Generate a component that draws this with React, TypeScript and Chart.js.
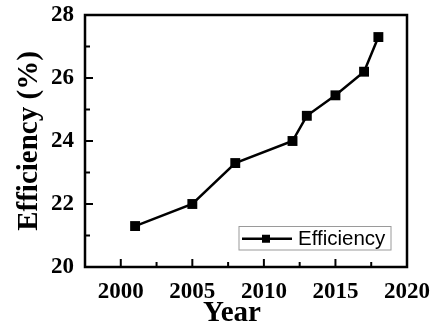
import React, { useEffect, useRef } from "react";
import { Chart, registerables } from "chart.js";

Chart.register(...registerables);

const years = [2001, 2005, 2008, 2012, 2013, 2015, 2017, 2018];
const efficiency = [21.3, 22.0, 23.3, 24.0, 24.8, 25.45, 26.2, 27.3];
const xTicks = [2000, 2005, 2010, 2015, 2020];
const xMinorTicks = [2002.5, 2007.5, 2012.5, 2017.5];
const yTicks = [20, 22, 24, 26, 28];
const yMinorTicks = [21, 23, 25, 27];
const seriesLabel = "Efficiency";
const xTitle = "Year";
const yTitle = "Efficiency (%)";

const SERIF = "'Liberation Serif', 'Times New Roman', serif";
const SANS = "'Liberation Sans', Arial, sans-serif";

const framePlugin = {
  id: "frame",
  afterDatasetsDraw(chart: any) {
    const { ctx, chartArea } = chart;
    const { left, right, top, bottom } = chartArea;
    const xs = chart.scales.x;
    const ys = chart.scales.y;
    ctx.save();
    ctx.strokeStyle = "#000";
    ctx.lineCap = "butt";
    ctx.lineWidth = 2;
    const major = 8;
    const minor = 5;
    xTicks.forEach((v) => {
      const px = xs.getPixelForValue(v);
      ctx.beginPath();
      ctx.moveTo(px, bottom);
      ctx.lineTo(px, bottom - major);
      ctx.stroke();
    });
    xMinorTicks.forEach((v) => {
      const px = xs.getPixelForValue(v);
      ctx.beginPath();
      ctx.moveTo(px, bottom);
      ctx.lineTo(px, bottom - minor);
      ctx.stroke();
    });
    yTicks.forEach((v) => {
      const py = ys.getPixelForValue(v);
      ctx.beginPath();
      ctx.moveTo(left, py);
      ctx.lineTo(left + major, py);
      ctx.stroke();
    });
    yMinorTicks.forEach((v) => {
      const py = ys.getPixelForValue(v);
      ctx.beginPath();
      ctx.moveTo(left, py);
      ctx.lineTo(left + minor, py);
      ctx.stroke();
    });
    ctx.lineWidth = 2.5;
    ctx.strokeRect(left, top, right - left, bottom - top);

    // legend
    const lw = 152;
    const lh = 23.5;
    const lx = right - 16 - lw;
    const ly = bottom - 17 - lh;
    ctx.lineWidth = 1;
    ctx.strokeStyle = "#9a9a9a";
    ctx.strokeRect(lx, ly, lw, lh);
    const cy = ly + lh / 2 + 0.5;
    ctx.strokeStyle = "#000";
    ctx.lineWidth = 2.5;
    ctx.beginPath();
    ctx.moveTo(lx + 3, cy);
    ctx.lineTo(lx + 53, cy);
    ctx.stroke();
    ctx.fillStyle = "#000";
    ctx.fillRect(lx + 27 - 4, cy - 4, 8, 8);
    ctx.font = `20.5px ${SANS}`;
    ctx.textBaseline = "middle";
    ctx.textAlign = "left";
    ctx.fillText(seriesLabel, lx + 59, cy + 1);

    // axis titles
    ctx.font = `bold 29px ${SERIF}`;
    ctx.textAlign = "center";
    ctx.textBaseline = "alphabetic";
    ctx.fillText(xTitle, 232, 321);
    ctx.save();
    ctx.translate(37, (top + bottom) / 2);
    ctx.rotate(-Math.PI / 2);
    ctx.font = `bold 29px ${SERIF}`;
    ctx.fillText(yTitle, 0, 0);
    ctx.restore();
    ctx.restore();
  },
};

export default function App() {
  const ref = useRef<HTMLCanvasElement | null>(null);
  useEffect(() => {
    if (!ref.current) return;
    const chart = new Chart(ref.current, {
      type: "line",
      data: {
        datasets: [
          {
            label: seriesLabel,
            data: years.map((y, i) => ({ x: y, y: efficiency[i] })),
            borderColor: "#000",
            backgroundColor: "#000",
            borderWidth: 2.5,
            pointStyle: "rect",
            pointRadius: 7,
            pointBorderWidth: 0,
            pointBackgroundColor: "#000",
            tension: 0,
          },
        ],
      },
      options: {
        animation: false,
        responsive: false,
        maintainAspectRatio: false,
        layout: { padding: { top: 15, right: 28, left: 0, bottom: 0 } },
        plugins: { legend: { display: false }, tooltip: { enabled: false } },
        scales: {
          x: {
            type: "linear",
            min: 1997.5,
            max: 2020,
            afterBuildTicks: (scale: any) => {
              scale.ticks = xTicks.map((v) => ({ value: v }));
            },
            afterFit: (scale: any) => {
              scale.height = 59;
              scale.paddingLeft = 0;
              scale.paddingRight = 0;
              scale.paddingTop = 0;
              scale.paddingBottom = 0;
            },
            grid: { display: false, drawTicks: false },
            border: { display: false },
            ticks: {
              color: "#000",
              padding: 11,
              maxRotation: 0,
              autoSkip: false,
              font: { family: SERIF, size: 23, weight: "bold" },
              callback: (v: any) => String(v),
            },
          },
          y: {
            type: "linear",
            min: 20,
            max: 28,
            afterBuildTicks: (scale: any) => {
              scale.ticks = yTicks.map((v) => ({ value: v }));
            },
            afterFit: (scale: any) => {
              scale.width = 85;
              scale.paddingLeft = 0;
              scale.paddingRight = 0;
              scale.paddingTop = 0;
              scale.paddingBottom = 0;
            },
            grid: { display: false, drawTicks: false },
            border: { display: false },
            ticks: {
              color: "#000",
              padding: 11,
              autoSkip: false,
              font: { family: SERIF, size: 23, weight: "bold" },
              callback: (v: any) => String(v),
            },
          },
        },
      },
      plugins: [framePlugin],
    });
    return () => chart.destroy();
  }, []);
  return (
    <div style={{ position: "fixed", left: 0, top: 0, width: 435, height: 326, background: "#fff" }}>
      <canvas ref={ref} width={435} height={326} style={{ width: 435, height: 326, display: "block" }} />
    </div>
  );
}
